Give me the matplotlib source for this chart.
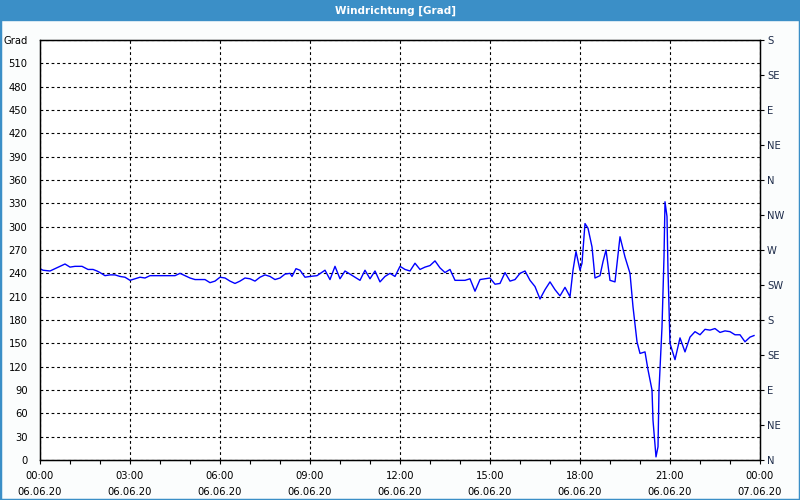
import matplotlib
matplotlib.use("Agg")
import matplotlib.pyplot as plt
from matplotlib.patches import Rectangle

# Minuten seit 06.06.20 00:00 und Windrichtung in Grad
minuten = [0, 6, 20, 30, 40, 50, 60, 70, 84, 90, 96, 106, 114, 120, 130, 140, 150, 160, 170, 180,
           190, 200, 210, 220, 230, 270, 280, 290, 300, 310, 320, 330, 340, 350, 360, 370, 380, 390,
           400, 410, 420, 430, 440, 450, 460, 470, 480, 490, 500, 504, 512, 520, 530, 540, 554, 570,
           580, 590, 600, 610, 620, 640, 650, 660, 670, 680, 690, 700, 710, 720, 730, 740, 750, 760,
           770, 780, 790, 800, 810, 820, 830, 850, 860, 870, 880, 890, 900, 910, 920, 930, 940, 950,
           960, 970, 980, 990, 1000, 1010, 1020, 1030, 1040, 1050, 1060, 1066, 1072, 1080, 1084, 1090,
           1096, 1104, 1110, 1120, 1126, 1132, 1140, 1150, 1160, 1170, 1180, 1186, 1194, 1200, 1210,
           1216, 1224, 1226, 1232, 1236, 1238, 1244, 1248, 1250, 1254, 1256, 1260, 1270, 1280, 1290,
           1300, 1310, 1320, 1330, 1340, 1350, 1360, 1370, 1380, 1390, 1400, 1410, 1420, 1428]
grad = [246, 244, 243, 246, 249, 252, 248, 249, 249, 247, 245, 245, 243, 241, 237, 238, 238, 236, 235, 231,
        233, 235, 234, 237, 237, 237, 240, 237, 234, 232, 232, 232, 228, 230, 235, 234, 230, 227,
        230, 234, 233, 230, 235, 238, 236, 232, 234, 239, 240, 236, 246, 244, 235, 236, 237, 244,
        232, 249, 233, 243, 239, 231, 244, 233, 243, 229, 236, 240, 236, 249, 245, 243, 253, 245,
        248, 250, 256, 247, 241, 245, 231, 231, 233, 217, 232, 233, 234, 226, 227, 241, 230, 232,
        240, 243, 231, 223, 207, 219, 229, 219, 211, 222, 210, 244, 268, 244, 253, 304,
        298, 274, 234, 237, 255, 270, 231, 229, 287, 261, 240, 197, 152, 137, 139,
        116, 90, 51, 4, 17, 90, 171, 261, 332, 313, 244, 150, 129, 157, 139,
        158, 165, 161, 168, 167, 169, 164, 166, 165, 161, 161, 152, 158, 160]

stunden = [m / 60 for m in minuten]

zeit_labels = ["00:00\n06.06.20", "03:00\n06.06.20", "06:00\n06.06.20", "09:00\n06.06.20",
               "12:00\n06.06.20", "15:00\n06.06.20", "18:00\n06.06.20", "21:00\n06.06.20",
               "00:00\n07.06.20"]
links_labels = [str(v) for v in range(0, 540, 30)] + ["Grad"]
rechts_labels = ["N", "NE", "E", "SE", "S", "SW", "W", "NW", "N", "NE", "E", "SE", "S"]

blau = "#3b8fc7"
fs = 7.2

fig = plt.figure(figsize=(8, 5), dpi=100)
fig.patch.set_facecolor("#fbfdfd")
fig.patches.append(Rectangle((0, 0), 1, 1, transform=fig.transFigure, fill=False,
                             edgecolor=blau, linewidth=2.5))
fig.patches.append(Rectangle((0, 0.96), 1, 0.04, transform=fig.transFigure,
                             facecolor=blau, edgecolor=blau))
fig.text(0.494, 0.979, "Windrichtung [Grad]", color="white", fontsize=7.5,
         fontweight="bold", ha="center", va="center")

ax = fig.add_axes([0.05, 0.08, 0.90, 0.84])
ax.set_facecolor("white")
ax.plot(stunden, grad, color="#0000ff", linewidth=1)

ax.set_xlim(0, 24)
ax.set_ylim(0, 540)
ax.set_xticks(range(0, 25, 3))
ax.set_xticklabels(zeit_labels, fontsize=fs, linespacing=1.75)
ax.set_xticks(range(0, 25), minor=True)
ax.tick_params(axis="x", which="both", length=3, width=0.8, direction="out", pad=5)
ax.set_yticks(range(0, 541, 30))
ax.set_yticklabels(links_labels, fontsize=fs)
ax.tick_params(axis="y", length=0, pad=9)

ax.grid(True, color="black", linestyle=(0, (2.5, 2.5)), linewidth=0.8)
for s in ax.spines.values():
    s.set_linewidth(1)
    s.set_color("black")

ax2 = ax.twinx()
ax2.set_ylim(0, 540)
ax2.set_yticks(range(0, 541, 45))
ax2.set_yticklabels(rechts_labels, fontsize=fs, color="#1c2a48")
ax2.tick_params(axis="y", length=3, width=0.8, pad=2)

fig.savefig("out.png", dpi=100, facecolor=fig.get_facecolor())
